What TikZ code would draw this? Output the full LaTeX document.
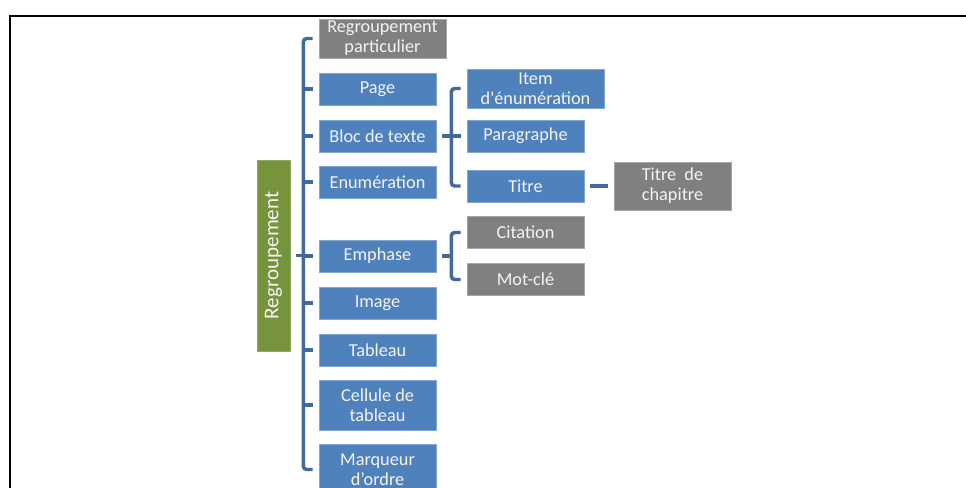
\documentclass[tikz,border=0pt]{standalone}
\usepackage{fontspec}
\setmainfont{Carlito}
\usetikzlibrary{calc}
\definecolor{boxblue}{RGB}{79,129,189}
\definecolor{boxgray}{RGB}{128,128,128}
\definecolor{boxgreen}{RGB}{119,147,60}
\definecolor{connblue}{RGB}{65,105,160}
\definecolor{txtwhite}{RGB}{244,244,244}
\tikzset{
  base/.style={rectangle, inner sep=0pt, align=center, text=txtwhite,
    font=\fontsize{13.7}{15}\selectfont, line width=0.5pt},
  bluebox/.style={base, fill=boxblue, draw=boxblue!70!white,
    minimum width=87.75pt, minimum height=24pt},
  graybox/.style={base, fill=boxgray, draw=boxgray!70!white,
    minimum width=87.75pt, minimum height=24pt},
  greenbox/.style={base, fill=boxgreen, draw=boxgreen!80!white,
    font=\fontsize{15.8}{18}\selectfont},
  conn/.style={draw=connblue, line width=2.6pt, rounded corners=2.5pt},
  frameline/.style={draw=black, line width=1.5pt}
}
\begin{document}
\begin{tikzpicture}[x=0.75pt,y=-0.75pt]
\useasboundingbox (0,0) rectangle (966,488);
\clip (0,0) rectangle (966,488);
% frame
\coordinate (fbl) at (10,490);
\coordinate (ftl) at (10,16);
\coordinate (ftr) at (968,16);
\draw[frameline] (fbl) -- (ftl) -- (ftr);

% root
\node[greenbox, rotate=90, minimum width=143.25pt, minimum height=24.75pt] (grp) at (273.5,255.5) {Regroupement};

% first level
\node[graybox, minimum width=95.25pt, minimum height=29.25pt] (rp) at (382.5,38.5) {Regroupement\\particulier};
\node[bluebox] (page) at (377.5,89) {Page};
\node[bluebox] (bloc) at (377.5,136) {Bloc de texte};
\node[bluebox] (enum) at (377.5,182) {Enumération};
\node[bluebox] (emph) at (377.5,256) {Emphase};
\node[bluebox] (img) at (377.5,303) {Image};
\node[bluebox] (tab) at (377.5,350) {Tableau};
\node[bluebox, minimum height=37.5pt] (cell) at (377.5,405) {Cellule de\\tableau};
\node[bluebox, minimum height=37.5pt] (marq) at (377.5,469.5) {Marqueur\\d’ordre};

% second level
\node[bluebox, minimum width=102.75pt, minimum height=29.25pt] (item) at (535.5,88.5) {Item\\d\textquotesingle énumération};
\node[bluebox] (para) at (525.5,136) {Paragraphe};
\node[bluebox] (titre) at (525.5,186) {Titre};
\node[graybox, minimum height=36pt] (chap) at (672.5,186) {Titre\ \ de\\chapitre};
\node[graybox] (cit) at (525.5,232.5) {Citation};
\node[graybox] (mot) at (525.5,279.5) {Mot-clé};

% main bracket
\coordinate (mx) at ($(grp.south)+(13,0)$);
\coordinate (rpw) at ($(rp.west)+(-6,0)$);
\coordinate (marqw) at ($(marq.west)+(-6,0)$);
\draw[conn] (rpw) -- (mx |- rpw) -- (mx |- marqw) -- (marqw);
\draw[conn] ($(grp.south)+(6,0)$) -- (mx);
\foreach \n in {page,bloc,enum,emph,img,tab,cell}{
  \draw[conn] (mx |- \n.west) -- ($(\n.west)+(-6,0)$);
}

% bloc bracket
\coordinate (bx) at ($(bloc.east)+(15,0)$);
\coordinate (itemw) at ($(item.west)+(-6,0)$);
\coordinate (titrew) at ($(titre.west)+(-6,0)$);
\draw[conn] (itemw) -- (bx |- itemw) -- (bx |- titrew) -- (titrew);
\draw[conn] ($(bloc.east)+(6,0)$) -- (bx);
\draw[conn] (bx |- para.west) -- ($(para.west)+(-6,0)$);

% emphase bracket
\coordinate (ex) at ($(emph.east)+(15,0)$);
\coordinate (citw) at ($(cit.west)+(-6,0)$);
\coordinate (motw) at ($(mot.west)+(-6,0)$);
\draw[conn] (citw) -- (ex |- citw) -- (ex |- motw) -- (motw);
\draw[conn] ($(emph.east)+(6,0)$) -- (ex);

% titre -> chapitre
\draw[conn] ($(titre.east)+(6,0)$) -- ($(chap.west)+(-6,0)$);
\end{tikzpicture}
\end{document}
